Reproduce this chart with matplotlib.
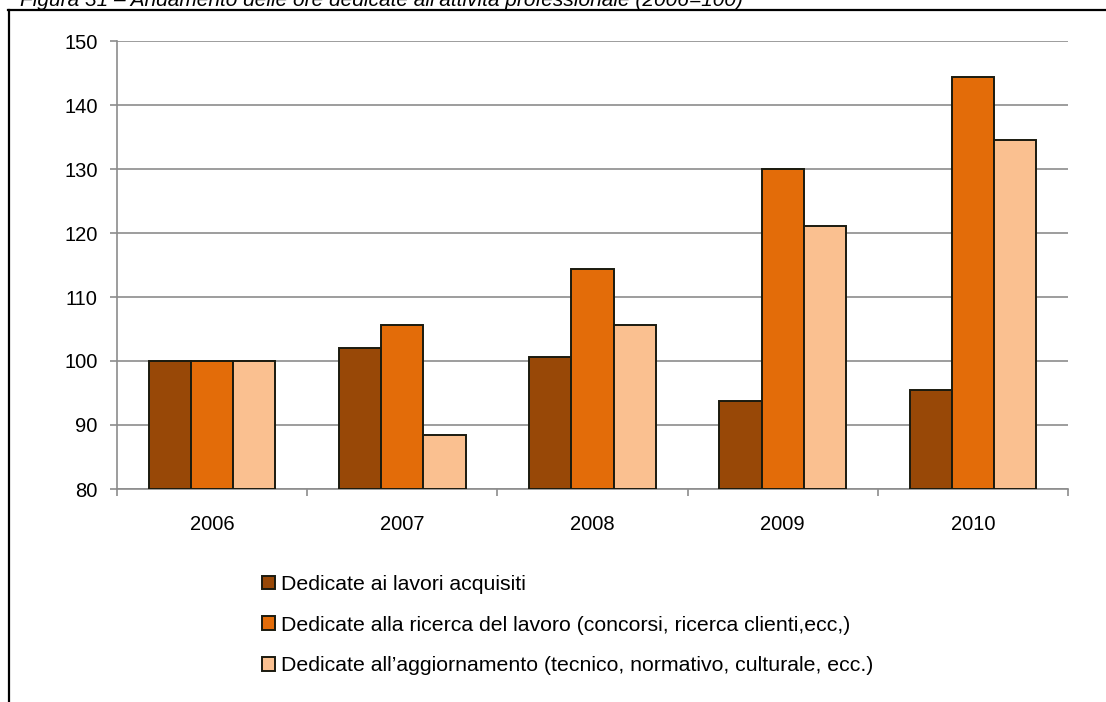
import matplotlib
matplotlib.use("Agg")
import matplotlib.pyplot as plt
from matplotlib.lines import Line2D
import numpy as np

years = ["2006", "2007", "2008", "2009", "2010"]
lavori_acquisiti = [100.0, 102.1, 100.6, 93.8, 95.5]
ricerca_lavoro = [100.0, 105.7, 114.3, 130.0, 144.3]
aggiornamento = [100.0, 88.5, 105.7, 121.1, 134.6]
series_labels = [
    "Dedicate ai lavori acquisiti",
    "Dedicate alla ricerca del lavoro (concorsi, ricerca clienti,ecc,)",
    "Dedicate all\u2019aggiornamento (tecnico, normativo, culturale, ecc.)",
]
yticks = [80, 90, 100, 110, 120, 130, 140, 150]
title = "Figura 31 \u2013 Andamento delle ore dedicate all\u2019attivit\u00e0 professionale (2006=100)"

colors = ["#984807", "#E36C09", "#FAC090"]

plt.rcParams["font.family"] = ["Liberation Sans", "DejaVu Sans"]

W, H = 1106, 702
fig = plt.figure(figsize=(W / 100, H / 100), dpi=100)
ax = fig.add_axes([117 / W, 1 - 489 / H, (1068 - 117) / W, (489 - 41) / H])

x = np.arange(len(years))
bw = 0.222
for i, (vals, c, lab) in enumerate(zip([lavori_acquisiti, ricerca_lavoro, aggiornamento], colors, series_labels)):
    ax.bar(x + (i - 1) * bw, np.array(vals) - 80, bottom=80, width=bw, color=c,
           edgecolor="#1a1a0f", linewidth=1.4, label=lab, zorder=3)

ax.set_xlim(-0.5, len(years) - 0.5)
ax.set_ylim(80, 150)
ax.set_yticks(yticks)
ax.set_yticklabels([str(v) for v in yticks])
ax.set_xticks(x)
ax.set_xticklabels(years)
ax.set_xticks(np.arange(-0.5, len(years), 1.0), minor=True)

grid_c = "#8c8c8c"
ax.yaxis.grid(True, color=grid_c, linewidth=1.2, zorder=0)
ax.set_axisbelow(True)
for s in ["top", "right"]:
    ax.spines[s].set_visible(False)
for s in ["left", "bottom"]:
    ax.spines[s].set_color(grid_c)
    ax.spines[s].set_linewidth(1.2)

ax.tick_params(axis="y", which="major", direction="out", length=5, width=1.2, color=grid_c,
               labelsize=14.5, pad=9, labelcolor="black")
ax.tick_params(axis="x", which="major", length=0, labelsize=14.5, pad=19, labelcolor="black")
ax.tick_params(axis="x", which="minor", direction="out", length=5, width=1.2, color=grid_c)

handles, labels = ax.get_legend_handles_labels()
leg = fig.legend(handles, labels, loc="upper left", bbox_to_anchor=(262 / W, 1 - 575 / H),
                 frameon=False, fontsize=15.3, handlelength=0.6, handleheight=0.6,
                 handletextpad=0.3, labelspacing=1.02, borderpad=0, borderaxespad=0)

# frame around the figure
fig.add_artist(Line2D([8.5 / W, 8.5 / W], [0, 1 - 10 / H], transform=fig.transFigure,
                      color="black", linewidth=1.6))
fig.add_artist(Line2D([8 / W, 1], [1 - 10 / H, 1 - 10 / H], transform=fig.transFigure,
                      color="black", linewidth=1.6))

# clipped caption at the top (the reference shows it cut off by the image edge)
fig.text(20 / W, 1 - 6 / H, title, fontsize=15, style="italic", va="baseline", ha="left")

fig.savefig("out.png", dpi=100)
